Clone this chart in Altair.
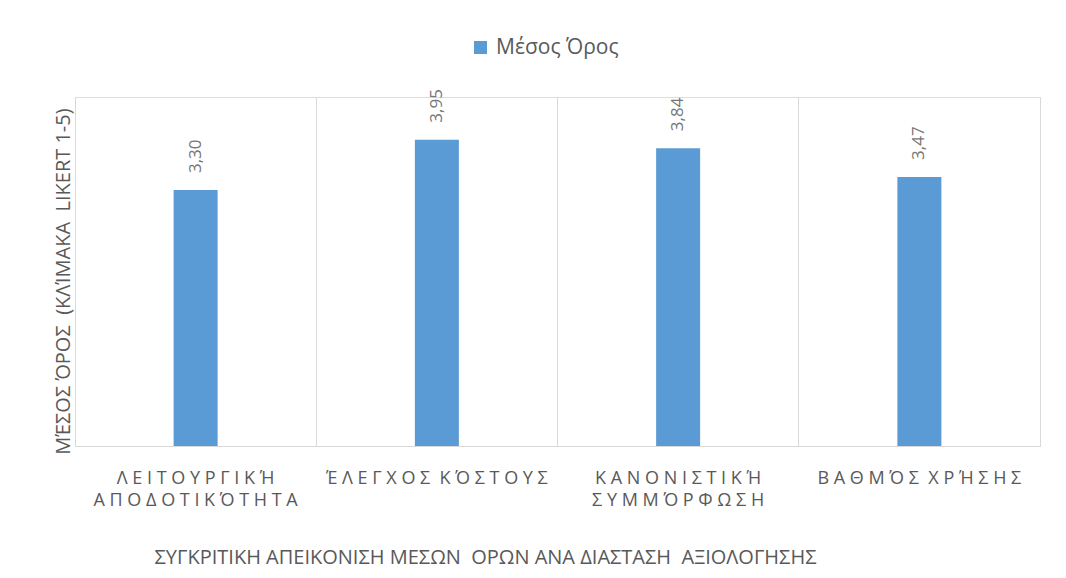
import altair as alt
import pandas as pd

categories = ["ΛΕΙΤΟΥΡΓΙΚΉ ΑΠΟΔΟΤΙΚΌΤΗΤΑ", "ΈΛΕΓΧΟΣ ΚΌΣΤΟΥΣ", "ΚΑΝΟΝΙΣΤΙΚΉ ΣΥΜΜΌΡΦΩΣΗ", "ΒΑΘΜΌΣ ΧΡΉΣΗΣ"]
label_lines = [["ΛΕΙΤΟΥΡΓΙΚΉ", "ΑΠΟΔΟΤΙΚΌΤΗΤΑ"], ["ΈΛΕΓΧΟΣ ΚΌΣΤΟΥΣ"], ["ΚΑΝΟΝΙΣΤΙΚΉ", "ΣΥΜΜΌΡΦΩΣΗ"], ["ΒΑΘΜΌΣ ΧΡΉΣΗΣ"]]
values = [3.30, 3.95, 3.84, 3.47]
series_name = "Μέσος Όρος"
x_title = "ΣΥΓΚΡΙΤΙΚΗ ΑΠΕΙΚΟΝΙΣΗ ΜΕΣΩΝ  ΟΡΩΝ ΑΝΑ ΔΙΑΣΤΑΣΗ  ΑΞΙΟΛΟΓΗΣΗΣ"
y_title = "ΜΈΣΟΣ ΌΡΟΣ  (ΚΛΊΜΑΚΑ  LIKERT 1-5)"

NBSP = "\u00a0"


def spaced(line):
    # letter-spaced caps, as in the reference
    return " \u00a0".join(" ".join(word) for word in line.split(" "))


def keep_spaces(s):
    return s.replace(" ", NBSP)


tick_labels = ["|".join(spaced(l) for l in lines) for lines in label_lines]

df = pd.DataFrame({
    "category": categories,
    "value": values,
    "series": [series_name] * len(categories),
})

label_expr = "split(" + " : ".join(
    [f"datum.label == '{c}' ? '{t}'" for c, t in zip(categories, tick_labels)] + ["datum.label"]
) + ", '|')"

FONT = "Open Sans"
GRAY = "#595959"
GRID = "#D9D9D9"

x_enc = alt.X(
    "category:N",
    sort=categories,
    scale=alt.Scale(paddingInner=0, paddingOuter=0),
    axis=alt.Axis(
        title=keep_spaces(x_title),
        titleFont=FONT, titleFontSize=20, titleFontWeight="normal", titleColor=GRAY,
        titleX=410, titleY=111, titleAlign="center", titleBaseline="middle",
        labelExpr=label_expr, labelAngle=0, labelFont=FONT, labelFontSize=18,
        labelColor=GRAY, labelPadding=23, labelLineHeight=22, labelLimit=0,
        ticks=False, domain=True, domainColor=GRID, domainWidth=1,
        grid=True, gridColor=GRID, gridWidth=1, bandPosition=0,
    ),
)

y_scale = alt.Scale(domain=[0, 4.5], nice=False)

bars = alt.Chart(df).mark_bar(size=44).encode(
    x=x_enc,
    y=alt.Y(
        "value:Q", scale=y_scale,
        axis=alt.Axis(
            title=keep_spaces(y_title), titleFont=FONT, titleFontSize=20,
            titleFontWeight="normal", titleColor=GRAY, titlePadding=2,
            titleY=184, titleAlign="center", titleLimit=0,
            labels=False, ticks=False, domain=False, grid=False,
        ),
    ),
    color=alt.Color(
        "series:N", scale=alt.Scale(range=["#5B9BD5"]),
        legend=alt.Legend(
            title=None, orient="none", legendX=395, legendY=-60,
            symbolType="square", symbolSize=169, symbolStrokeWidth=0,
            labelFont=FONT, labelFontSize=21, labelColor=GRAY, labelOffset=5,
        ),
    ),
)

texts = alt.Chart(df).transform_calculate(
    lbl="replace(format(datum.value, '.2f'), '.', ',')"
).mark_text(
    angle=270, align="left", baseline="middle", dx=17, font=FONT, fontSize=17, color="#767676"
).encode(
    x=alt.X("category:N", sort=categories),
    y=alt.Y(
        "value:Q", scale=y_scale,
        axis=alt.Axis(orient="right", title=None, labels=False, ticks=False,
                      domain=True, domainColor=GRID, grid=False),
    ),
    text="lbl:N",
)

chart = alt.layer(bars, texts).resolve_axis(y="independent").properties(
    width=965, height=349,
    autosize=alt.AutoSizeParams(type="none"),
    padding={"left": 67, "top": 89, "right": 18, "bottom": 124},
).configure_view(stroke="transparent", strokeWidth=0).configure(background="white")

chart.save("out.html", embed_options={"renderer": "svg", "actions": False})
